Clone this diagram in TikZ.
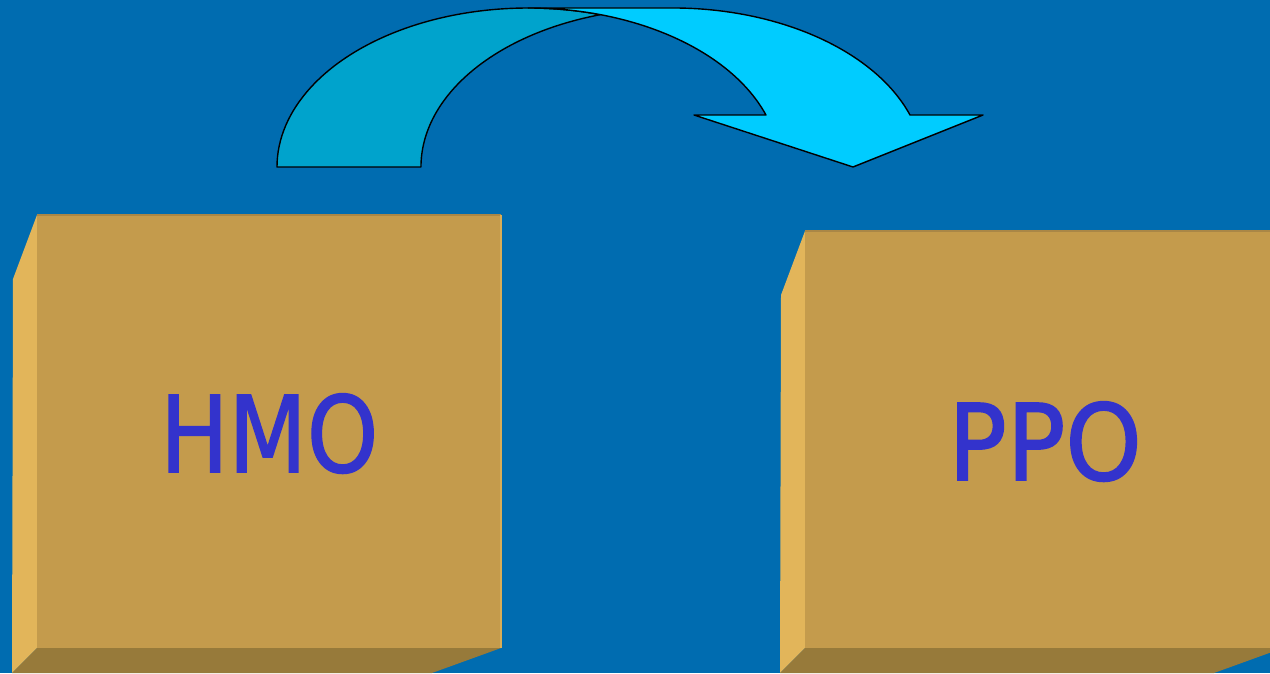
\documentclass[tikz,border=0pt]{standalone}
\usepackage{fontspec}
\setmainfont{DejaVu Sans}
\newfontfamily\lblfont[FakeBold=1.5]{DejaVu Sans}
\definecolor{bgblue}{RGB}{0,108,176}
\definecolor{face}{RGB}{196,155,76}
\definecolor{bevelL}{RGB}{226,181,90}
\definecolor{bevelB}{RGB}{151,122,58}
\definecolor{edgeT}{RGB}{170,135,70}
\definecolor{arrowDark}{RGB}{0,163,204}
\definecolor{arrowLight}{RGB}{0,204,255}
\definecolor{txt}{RGB}{51,51,204}
\tikzset{
  facebox/.style={fill=face,draw=none},
  leftbevel/.style={fill=bevelL,draw=none},
  bottombevel/.style={fill=bevelB,draw=none},
  arrowpart/.style={draw=black,line width=1.4pt,line join=round},
  label/.style={text=txt,font=\lblfont\fontsize{105.6}{110}\selectfont,inner sep=0pt,anchor=base west}
}
\begin{document}
\begin{tikzpicture}[x=1pt,y=1pt]
\useasboundingbox (0,0) rectangle (1270,673);
\fill[bgblue] (0,0) rectangle (1270,673);
\begin{scope}
\clip (0,0) rectangle (1270,673);
% left box
\fill[leftbevel] (13,394) -- (37,458) -- (37,25) -- (12,0) -- cycle;
\fill[bottombevel] (37,25) -- (501,25) -- (432,0) -- (12,0) -- cycle;
\fill[facebox] (37,25) rectangle (501,458);
\draw[edgeT,line width=1.2pt] (37,458) -- (501,458);
\draw[bevelL!70!face,line width=1.2pt] (501,458) -- (501,25);
% right box
\fill[leftbevel] (781,378) -- (805,442) -- (805,25) -- (780,0) -- cycle;
\fill[bottombevel] (805,25) -- (1283,25) -- (1214,0) -- (780,0) -- cycle;
\fill[facebox] (805,25) rectangle (1283,442);
\draw[edgeT,line width=1.2pt] (805,442) -- (1283,442);
\end{scope}
% labels
\node[label] (hmo) at (160,201) {\scalebox{0.86}[1]{HMO}};
\node[label] (ppo) at (948,193) {\scalebox{0.92}[1]{PPO}};
% curved arrow: back part
\draw[arrowpart,fill=arrowDark] (277,506)
  arc[start angle=180,end angle=73.36,x radius=251.4,y radius=159]
  arc[start angle=106.64,end angle=180,x radius=251.4,y radius=159]
  -- cycle;
% curved arrow: front part
\draw[arrowpart,fill=arrowLight] (528.4,665)
  arc[start angle=90,end angle=19.08,x radius=251.4,y radius=159]
  -- (694,558) -- (853,506) -- (983,558) -- (910,558)
  arc[start angle=19.08,end angle=90,x radius=251.4,y radius=159]
  -- cycle;
\end{tikzpicture}
\end{document}
